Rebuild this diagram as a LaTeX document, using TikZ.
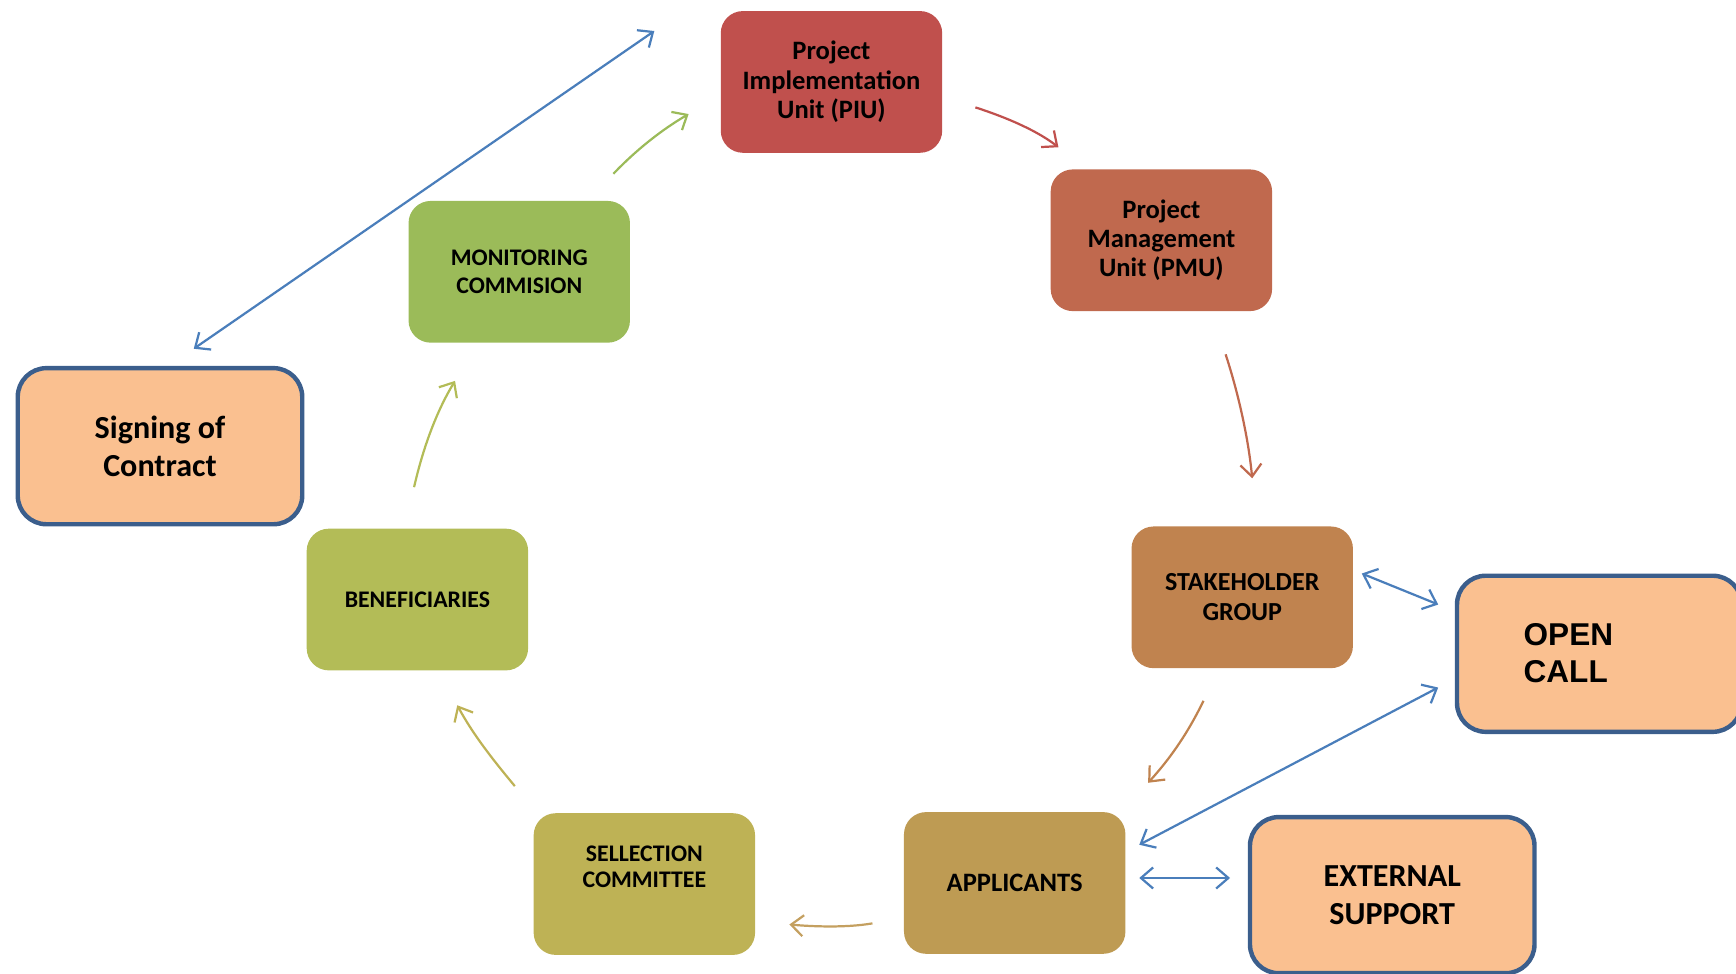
\documentclass[tikz,border=0pt]{standalone}
\usepackage{fontspec}
\setmainfont{Carlito}
\newfontfamily\arialfont{Liberation Sans}
\usetikzlibrary{arrows.meta}
\definecolor{cPIU}{HTML}{C0504D}
\definecolor{cPMU}{HTML}{C0694E}
\definecolor{cSTK}{HTML}{C0834F}
\definecolor{cAPP}{HTML}{BE9B53}
\definecolor{cSEL}{HTML}{BEB255}
\definecolor{cBEN}{HTML}{B3BC57}
\definecolor{cMON}{HTML}{9BBB59}
\definecolor{cPeach}{HTML}{FAC090}
\definecolor{cBorder}{HTML}{3B5E8C}
\definecolor{cBlue}{HTML}{4A7EBB}
\definecolor{cTan}{HTML}{C4A060}
\tikzset{
  box/.style={rounded corners=20pt, minimum width=200pt, minimum height=128pt,
    align=center, inner sep=0pt, text=black},
  bigbox/.style={rounded corners=26pt, draw=cBorder, line width=4pt, fill=cPeach,
    minimum width=257pt, minimum height=141pt, align=center, inner sep=0pt, text=black},
  flow/.style={line width=2pt, -{Straight Barb[length=11pt,width=19pt,line width=2pt]}},
  twoway/.style={line width=2pt, draw=cBlue,
    {Straight Barb[length=11pt,width=19pt,line width=2pt]}-{Straight Barb[length=11pt,width=19pt,line width=2pt]}},
  fA/.style={font=\bfseries\fontsize{24}{26.5}\selectfont},
  fB/.style={font=\bfseries\fontsize{21.5}{25}\selectfont},
  fC/.style={font=\bfseries\fontsize{29}{34}\selectfont},
}
\begin{document}
\begin{tikzpicture}[x=1pt,y=-1pt]
\useasboundingbox (0,0) rectangle (1568,879);
\clip (0,0) rectangle (1568,879);

\node[box, fill=cPIU, fA] (piu) at (751,74) {Project\\Implementation\\Unit (PIU)};
\node[box, fill=cPMU, fA] (pmu) at (1049,217) {Project\\Management\\Unit (PMU)};
\node[box, fill=cSTK, fA, font=\bfseries\fontsize{23.5}{27}\selectfont] (stk) at (1122,539.5) {STAKEHOLDER\\GROUP};
\node[box, fill=cAPP, fA] (app) at (916.5,797.5) {APPLICANTS};
\node[box, fill=cSEL, fB, font=\bfseries\fontsize{21.5}{24}\selectfont] (sel) at (582,798.5) {SELLECTION\\COMMITTEE\\\strut};
\node[box, fill=cBEN, fB] (ben) at (377,541.5) {BENEFICIARIES};
\node[box, fill=cMON, fB] (mon) at (469,245.5) {MONITORING\\COMMISION};

\node[bigbox, fC] (sign) at (144.5,403) {Signing of\\Contract};
\node[bigbox] (open) at (1444.5,590.5) {};
\node[anchor=west, align=left, inner sep=0pt, font=\arialfont\bfseries\fontsize{28.5}{34}\selectfont] (opent) at (1376,590) {OPEN\\CALL};
\node[bigbox, fC] (ext) at (1257.5,808.5) {EXTERNAL\\SUPPORT};

% connector ends
\coordinate (m1) at (554,157); \coordinate (p1) at (622,103);
\coordinate (p2) at (881,97);  \coordinate (q1) at (956,133);
\coordinate (q2) at (1107,320); \coordinate (s1) at (1131,432);
\coordinate (s2) at (1087,633); \coordinate (a1) at (1037,707);
\coordinate (a2) at (788,834); \coordinate (c1) at (713,835);
\coordinate (c2) at (465,710); \coordinate (b1) at (413,637);
\coordinate (b2) at (374,440); \coordinate (n1) at (411,344);
\coordinate (sg) at (175,315); \coordinate (pg) at (591,28);
\coordinate (sk) at (1230,518); \coordinate (ok1) at (1299,546);
\coordinate (ap) at (1029,763); \coordinate (ok2) at (1299,621);
\coordinate (ae) at (1029,793); \coordinate (ex) at (1111,793);

\draw[flow, draw=cMON] (m1) .. controls (575,135) and (598,117) .. (p1);
\draw[flow, draw=cPIU] (p2) .. controls (912,107) and (938,119) .. (q1);
\draw[flow, draw=cPMU] (q2) .. controls (1120,360) and (1128,400) .. (s1);
\draw[flow, draw=cSTK] (s2) .. controls (1073,662) and (1057,685) .. (a1);
\draw[flow, draw=cTan] (a2) .. controls (765,838) and (735,837) .. (c1);
\draw[flow, draw=cSEL] (c2) .. controls (445,686) and (427,663) .. (b1);
\draw[flow, draw=cBEN] (b2) .. controls (382,405) and (394,372) .. (n1);

\draw[twoway] (sg) -- (pg);
\draw[twoway] (sk) -- (ok1);
\draw[twoway] (ap) -- (ok2);
\draw[twoway] (ae) -- (ex);
\end{tikzpicture}
\end{document}
